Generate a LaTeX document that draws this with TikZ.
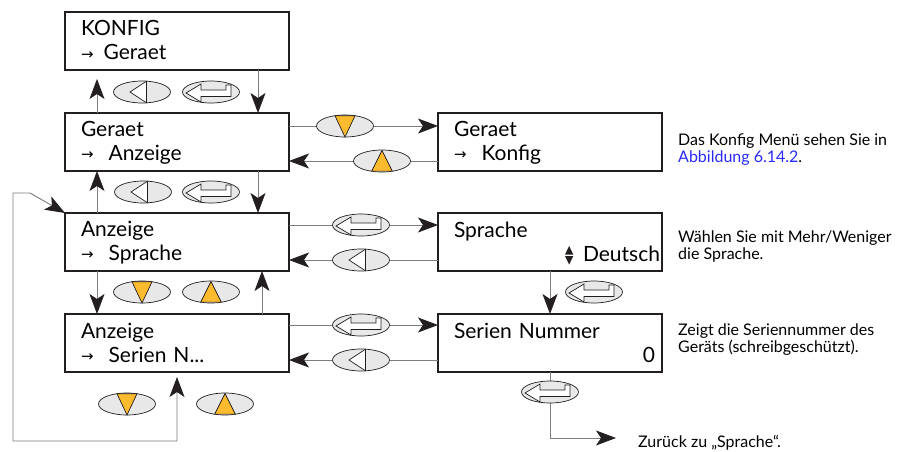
\documentclass[tikz,border=0pt]{standalone}
\usepackage{fontspec}
\setmainfont{Lato}
\newfontfamily\symfont{DejaVu Sans}
\usetikzlibrary{shapes.geometric, arrows.meta}

\definecolor{lcdblack}{RGB}{35,31,32}
\definecolor{linkgray}{RGB}{125,125,125}
\definecolor{keygray}{RGB}{232,232,232}
\definecolor{keyorange}{RGB}{252,186,46}
\definecolor{linkblue}{RGB}{40,40,255}

\newcommand\lcdstrut{\rule[-2pt]{0pt}{18pt}}
\newcommand\lcdarrow[1][15pt]{\raisebox{0.5pt}{\symfont\fontsize{15}{15}\selectfont →}\hspace{#1}}

\tikzset{
    keyoval/.style={ellipse, draw=lcdblack, line width=0.7pt, fill=keygray, minimum width=57pt, minimum height=22pt, inner sep=0pt},
    keysym/.style={draw=lcdblack, line width=0.7pt, line join=miter},
    leftkey/.pic={
        \node[keyoval] (-oval) {};
        \draw[keysym, fill=white] (-12,0) -- (4.5,-10.8) -- (4.5,10.8) -- cycle;
    },
    enterkey/.pic={
        \node[keyoval] (-oval) {};
        \draw[keysym, fill=white] (-25,1) -- (-10,-8) -- (-10,-2) -- (15,-2) -- (15,-7) -- (20,-7) -- (20,4.5) -- (-10,4.5) -- (-10,10) -- cycle;
    },
    downkey/.pic={
        \node[keyoval] (-oval) {};
        \draw[keysym, fill=keyorange] (-10,-10.2) -- (10,-10.2) -- (0,11) -- cycle;
    },
    upkey/.pic={
        \node[keyoval] (-oval) {};
        \draw[keysym, fill=keyorange] (-10.3,10.1) -- (10.3,10.1) -- (0,-10.5) -- cycle;
    }
}

\begin{document}
\begin{tikzpicture}[
        x=1pt, y=-1pt,
        >={Stealth[length=20pt, width=15pt, inset=5pt, color=lcdblack]},
        lcd/.style={rectangle, draw=lcdblack, line width=2.6pt, fill=white, minimum width=224pt, minimum height=58pt, text width=192pt, inner sep=0pt, outer sep=0pt, align=left, anchor=north west, font=\fontsize{21}{24}\selectfont, execute at begin node=\lcdstrut, execute at end node=\lcdstrut},
        note/.style={anchor=base west, align=left, inner sep=0pt, font=\fontsize{16}{17}\selectfont},
        link/.style={draw=linkgray, line width=0.9pt},
        arrow/.style={link, ->}
    ]
    \useasboundingbox (0,0) rectangle (899,452);
%
    % Displays
    \node[lcd] (konfig) at (65,12) {KONFIG\\\lcdarrow[10pt]Geraet};
    \node[lcd] (geraet) at (65,113) {Geraet\\\lcdarrow Anzeige};
    \node[lcd] (anzsprache) at (65,213) {Anzeige\\\lcdarrow Sprache};
    \node[lcd] (anzserien) at (65,314) {Anzeige\\\lcdarrow Serien N...};
    \node[lcd] (geraetkonfig) at (438,113) {Geraet\\\lcdarrow Konfig};
    \node[lcd] (sprache) at (438,213) {Sprache\\\hskip0pt plus1filll Deutsch\hspace*{-14pt}};
    \node[lcd] (seriennr) at (438,314) {Serien Nummer\\\hskip0pt plus1filll 0\hspace*{-9pt}};
    % up/down marker in front of Deutsch
    \fill[lcdblack] (565,254.6) -- (573.3,254.6) -- (569.15,246) -- cycle;
    \fill[lcdblack] (565,256) -- (573.3,256) -- (569.15,264.5) -- cycle;
%
    % Notes
    \node[note] (notekonfig) at (678,162) {Das Konfig Menü sehen Sie in\\\textcolor{linkblue}{Abbildung 6.14.2}.};
    \node[note] (notesprache) at (678,259) {Wählen Sie mit Mehr/Weniger\\die Sprache.};
    \node[note] (noteserien) at (678,352) {Zeigt die Seriennummer des\\Geräts (schreibgeschützt).};
    \node[note] (zurueck) at (638,447) {Zurück zu „Sprache“.};
%
    % Main menu arrows
    \draw[arrow, shorten >=9pt] ([xshift=32pt]geraet.north west) -- ([xshift=32pt]konfig.south west);
    \draw[arrow] ([xshift=-31pt]konfig.south east) -- ([xshift=-31pt]geraet.north east);
    \draw[arrow] ([xshift=32pt]anzsprache.north west) -- ([xshift=32pt]geraet.south west);
    \draw[arrow] ([xshift=-31pt]geraet.south east) -- ([xshift=-31pt]anzsprache.north east);
    \draw[arrow] ([xshift=32pt]anzsprache.south west) -- ([xshift=32pt]anzserien.north west);
    \draw[arrow] ([xshift=-27pt]anzserien.north east) -- ([xshift=-27pt]anzsprache.south east);
%
    % Wrap round
    \coordinate (wrapbot) at (13,441);
    \coordinate (wraptop) at (30,193);
    \draw[link, <->, shorten <=5pt] ([xshift=112pt]anzserien.south west) |- (wrapbot) |- (wraptop) -- (anzsprache.north west);
%
    % Sub menu arrows
    \draw[arrow] ([yshift=16pt]geraet.east) -- ([yshift=16pt]geraetkonfig.west);
    \draw[arrow] ([yshift=-19pt]geraetkonfig.west) -- ([yshift=-19pt]geraet.east);
    \draw[arrow] ([yshift=17pt]anzsprache.east) -- ([yshift=17pt]sprache.west);
    \draw[arrow] ([yshift=-18pt]sprache.west) -- ([yshift=-18pt]anzsprache.east);
    \draw[arrow] ([yshift=18pt]anzserien.east) -- ([yshift=18pt]seriennr.west);
    \draw[arrow] ([yshift=-17pt]seriennr.west) -- ([yshift=-17pt]anzserien.east);
    \draw[arrow] (sprache.south) -- (seriennr.north);
    \coordinate (backtip) at (616,438);
    \draw[arrow] (seriennr.south) |- (backtip);
%
    % Keys
    \foreach \x/\y [count=\i] in {142/92, 143/192, 361/260, 361/360}
        \pic (lk\i) at (\x,\y) {leftkey};
    \foreach \x/\y [count=\i] in {211/92, 211/192, 361/225, 361/325, 594/292, 550/392}
        \pic (ek\i) at (\x,\y) {enterkey};
    \foreach \x/\y [count=\i] in {142/292, 127/404, 345/126}
        \pic (dk\i) at (\x,\y) {downkey};
    \foreach \x/\y [count=\i] in {211/292, 225/404, 382/161}
        \pic (uk\i) at (\x,\y) {upkey};
%
\end{tikzpicture}
\end{document}
